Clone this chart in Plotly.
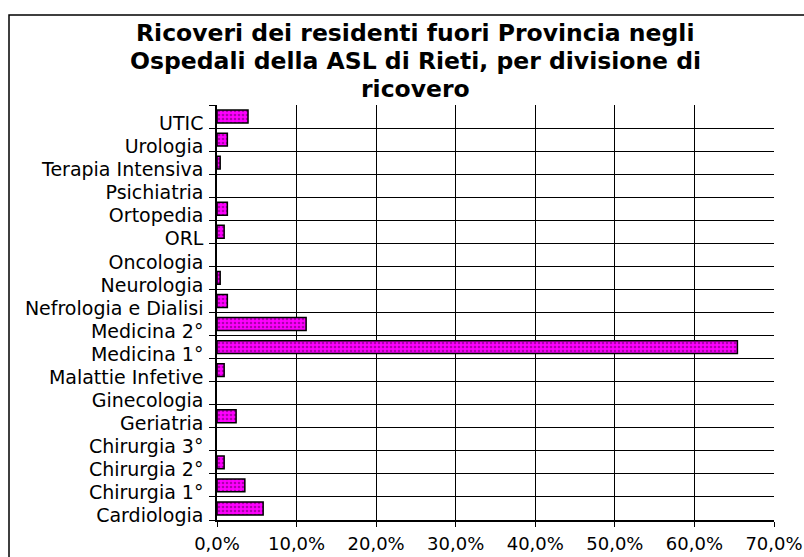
import plotly.graph_objects as go

# Divisions of admission (bottom to top) and share of admissions of non-resident patients
divisioni = [
    "Cardiologia", "Chirurgia 1°", "Chirurgia 2°", "Chirurgia 3°", "Geriatria",
    "Ginecologia", "Malattie Infetive", "Medicina 1°", "Medicina 2°",
    "Nefrologia e Dialisi", "Neurologia", "Oncologia", "ORL", "Ortopedia",
    "Psichiatria", "Terapia Intensiva", "Urologia", "UTIC",
]
quota = [5.8, 3.5, 0.9, 0.0, 2.4, 0.0, 0.9, 65.4, 11.2,
         1.3, 0.4, 0.0, 0.9, 1.3, 0.0, 0.4, 1.3, 3.9]

x_ticks = [0, 10, 20, 30, 40, 50, 60, 70]
x_tick_labels = ["0,0%", "10,0%", "20,0%", "30,0%", "40,0%", "50,0%", "60,0%", "70,0%"]

title_lines = [
    "Ricoveri dei residenti fuori Provincia negli",
    "Ospedali della ASL di Rieti, per divisione di",
    "ricovero",
]

FONT = "DejaVu Sans"

# plot area in pixels
L, R, T, B = 217, 30, 105, 37
W, H = 804, 557
PW, PH = W - L - R, H - T - B


def px_x(x):
    return (x - L) / PW


def px_y(y):
    return (H - B - y) / PH


fig = go.Figure(
    go.Bar(
        x=quota,
        y=divisioni,
        orientation="h",
        width=0.56,
        marker=dict(
            color="#FF00FF",
            line=dict(color="black", width=[1.5 if v > 0 else 0 for v in quota]),
            pattern=dict(shape=".", fgcolor="#5a005a", bgcolor="#FF00FF",
                         size=4, solidity=0.35),
        ),
        hovertemplate="%{y}: %{x:.1f}%<extra></extra>",
    )
)

fig.update_layout(
    width=W,
    height=H,
    margin=dict(l=L, r=R, t=T, b=B),
    paper_bgcolor="white",
    plot_bgcolor="white",
    showlegend=False,
    font=dict(family=FONT, size=19, color="black"),
    bargap=0.44,
)

fig.update_xaxes(
    range=[0, 70],
    tickvals=x_ticks,
    ticktext=x_tick_labels,
    tickfont=dict(family=FONT, size=18, color="black"),
    showgrid=True,
    gridcolor="black",
    gridwidth=1,
    showline=True,
    linecolor="black",
    linewidth=1.5,
    ticks="outside",
    ticklen=5,
    tickcolor="black",
    ticklabelstandoff=2,
    zeroline=False,
    automargin=False,
    fixedrange=True,
)

fig.update_yaxes(
    type="category",
    categoryorder="array",
    categoryarray=divisioni,
    range=[-0.5, len(divisioni) - 0.5],
    tickson="boundaries",
    showgrid=True,
    gridcolor="black",
    gridwidth=1,
    showline=True,
    linecolor="black",
    linewidth=1.5,
    ticks="outside",
    ticklen=6,
    tickcolor="black",
    ticklabelstandoff=8,
    ticklabelshift=7,
    automargin=False,
    fixedrange=True,
)

# Chart title, one annotation per line
for line, yc in zip(title_lines, [33, 61, 89]):
    fig.add_annotation(
        text=f"<b>{line}</b>",
        xref="paper", yref="paper",
        x=px_x(415), y=px_y(yc),
        xanchor="center", yanchor="middle",
        showarrow=False,
        font=dict(family=FONT, size=23.5, color="black"),
    )

# Outer chart frame
fig.add_shape(
    type="rect", xref="paper", yref="paper",
    x0=px_x(9), x1=px_x(W + 40),
    y0=px_y(H + 40), y1=px_y(15),
    line=dict(color="black", width=1.5),
    fillcolor="rgba(0,0,0,0)",
    layer="above",
)

fig.write_html("out.html")
